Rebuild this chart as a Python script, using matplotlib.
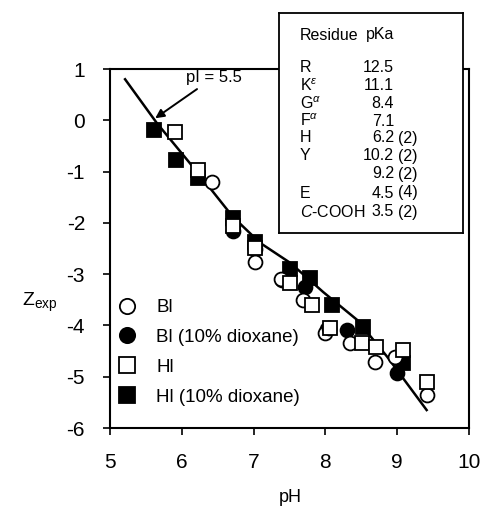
import matplotlib
matplotlib.use('Agg')
import matplotlib.pyplot as plt

plt.rcParams['font.family'] = ['Liberation Sans', 'DejaVu Sans']
plt.rcParams['mathtext.fontset'] = 'custom'
plt.rcParams['mathtext.rm'] = 'Liberation Sans'
plt.rcParams['mathtext.it'] = 'Liberation Sans:italic'
plt.rcParams['axes.unicode_minus'] = False

# fitted titration curve
curve_ph = [5.21, 5.65, 6.25, 6.71, 7.09, 7.51, 7.97, 8.44, 8.86, 9.41]
curve_z = [0.8, -0.05, -1.07, -1.88, -2.39, -2.78, -3.35, -3.89, -4.61, -5.65]

# BI
bi_ph = [6.42, 6.72, 7.02, 7.38, 7.69, 7.99, 8.05, 8.34, 8.69, 8.97, 9.41]
bi_z = [-1.2, -2.05, -2.76, -3.1, -3.5, -4.15, -4.05, -4.34, -4.71, -4.61, -5.35]

# BI (10% dioxane)
bi10_ph = [6.72, 7.02, 7.40, 7.72, 8.02, 8.30, 9.0]
bi10_z = [-2.16, -2.5, -3.11, -3.25, -4.07, -4.09, -4.93]

# HI
hi_ph = [5.91, 6.23, 6.72, 7.02, 7.51, 7.81, 8.06, 8.51, 8.70, 9.08, 9.41]
hi_z = [-0.23, -0.97, -2.06, -2.49, -3.17, -3.6, -4.05, -4.34, -4.42, -4.48, -5.1]

# HI (10% dioxane)
hi10_ph = [5.61, 5.92, 6.23, 6.72, 7.02, 7.51, 7.79, 8.09, 8.52, 9.08]
hi10_z = [-0.19, -0.77, -1.12, -1.9, -2.37, -2.9, -3.07, -3.6, -4.03, -4.73]

residues = ['R', 'K$^{ε}$', 'G$^{α}$', 'F$^{α}$', 'H', 'Y', '', 'E', '$C$-COOH']
pkas = ['12.5', '11.1', '8.4', '7.1', '6.2', '10.2', '9.2', '4.5', '3.5']
counts = ['', '', '', '', '(2)', '(2)', '(2)', '(4)', '(2)']

fig = plt.figure(figsize=(4.81, 5.14), dpi=100)
ax = fig.add_axes([110 / 481, 1 - 428 / 514, 359 / 481, 359 / 514])

ax.plot(curve_ph, curve_z, color='black', lw=1.8, zorder=2)

ms = 10
ax.plot(bi10_ph, bi10_z, 'o', ms=ms, mfc='black', mec='black', mew=1.3,
        label='Bl (10% dioxane)', zorder=3)
ax.plot(hi10_ph, hi10_z, 's', ms=ms, mfc='black', mec='black', mew=1.3,
        label='Hl (10% dioxane)', zorder=3)
ax.plot(bi_ph, bi_z, 'o', ms=ms, mfc='white', mec='black', mew=1.3,
        label='Bl', zorder=4)
ax.plot(hi_ph, hi_z, 's', ms=ms, mfc='white', mec='black', mew=1.3,
        label='Hl', zorder=4)

ax.annotate('pI = 5.5', xy=(5.63, 0.04), xytext=(6.06, 0.84),
            fontsize=12, va='center', ha='left',
            arrowprops=dict(arrowstyle='-|>', color='black', lw=1.4,
                            mutation_scale=13, shrinkA=2, shrinkB=0))

ax.set_xlim(5, 10)
ax.set_ylim(-6, 1)
ax.set_xticks([5, 6, 7, 8, 9, 10])
ax.set_yticks([-6, -5, -4, -3, -2, -1, 0, 1])
ax.tick_params(direction='out', length=5, width=1.2, labelsize=15, pad=13)
for s in ax.spines.values():
    s.set_linewidth(1.5)

fig.text(290 / 481, 1 - 497 / 514, 'pH', fontsize=13, ha='center', va='center')
fig.text(40 / 481, 1 - 302 / 514, 'Z$_{\\mathrm{exp}}$', fontsize=14,
         ha='center', va='center')

h, l = ax.get_legend_handles_labels()
order = [2, 0, 3, 1]
ax.legend([h[i] for i in order], [l[i] for i in order], loc='upper left',
          bbox_to_anchor=(119 / 481, 1 - 299 / 514),
          bbox_transform=fig.transFigure, frameon=False, fontsize=13.5,
          borderpad=0, borderaxespad=0, handlelength=0.9,
          handletextpad=1.1, labelspacing=0.68, markerscale=1.1)

# inset table with pKa values
ins = fig.add_axes([279 / 481, 1 - 233 / 514, 184 / 481, 220 / 514])
ins.set_xlim(279, 463)
ins.set_ylim(233, 13)
ins.set_xticks([])
ins.set_yticks([])
for s in ins.spines.values():
    s.set_linewidth(1.3)
fs = 11.5
ins.text(300, 35, 'Residue', fontsize=fs, ha='left', va='center')
ins.text(394, 35, 'pKa', fontsize=fs, ha='right', va='center')
row_y = [68, 86, 104, 121, 138, 156, 174, 193, 212]
for y, r, p, c in zip(row_y, residues, pkas, counts):
    ins.text(300, y, r, fontsize=fs, ha='left', va='center')
    ins.text(394, y, p, fontsize=fs, ha='right', va='center')
    if c:
        ins.text(398, y, c, fontsize=fs, ha='left', va='center')

fig.savefig('out.png', dpi=100)
